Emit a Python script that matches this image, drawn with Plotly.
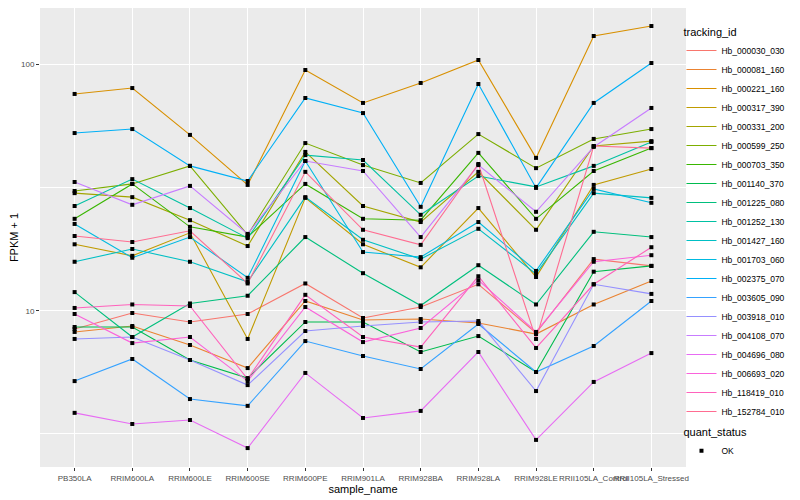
import plotly.graph_objects as go

samples = ["PB350LA", "RRIM600LA", "RRIM600LE", "RRIM600SE", "RRIM600PE", "RRIM901LA",
           "RRIM928BA", "RRIM928LA", "RRIM928LE", "RRII105LA_Control", "RRII105LA_Stressed"]

ids = ["Hb_000030_030", "Hb_000081_160", "Hb_000221_160", "Hb_000317_390", "Hb_000331_200",
       "Hb_000599_250", "Hb_000703_350", "Hb_001140_370", "Hb_001225_080", "Hb_001252_130",
       "Hb_001427_160", "Hb_001703_060", "Hb_002375_070", "Hb_003605_090", "Hb_003918_010",
       "Hb_004108_070", "Hb_004696_080", "Hb_006693_020", "Hb_118419_010", "Hb_152784_010"]

colors = ["#F8766D", "#EA8331", "#D89000", "#C09B00", "#A3A500", "#7CAE00", "#39B600", "#00BB4E",
          "#00BF7D", "#00C1A3", "#00BFC4", "#00BAE0", "#00B0F6", "#35A2FF", "#9590FF", "#C77CFF",
          "#E76BF3", "#FA62DB", "#FF62BC", "#FF6C91"]

# FPKM + 1 per tracking_id, in sample order
Hb_000030_030 = [8.43, 9.79, 9.00, 9.70, 12.9, 9.34, 10.35, 12.8, 8.12, 16.2, 15.2]
Hb_000081_160 = [8.20, 8.67, 7.26, 5.85, 10.95, 9.17, 9.25, 8.92, 8.04, 10.6, 13.2]
Hb_000221_160 = [75.8, 80.1, 51.7, 32.4, 94.8, 69.7, 84.0, 104.1, 41.7, 130.3, 143.0]
Hb_000317_390 = [18.6, 16.7, 20.7, 7.68, 28.7, 18.6, 15.0, 26.1, 13.7, 32.4, 37.6]
Hb_000331_200 = [30.0, 28.9, 23.3, 18.3, 44.1, 26.6, 22.9, 36.6, 21.3, 46.6, 48.8]
Hb_000599_250 = [30.6, 32.7, 38.7, 20.3, 47.9, 39.0, 33.0, 52.1, 37.9, 49.8, 54.6]
Hb_000703_350 = [23.6, 32.7, 21.9, 19.9, 32.7, 23.6, 23.3, 43.7, 23.6, 36.9, 45.7]
Hb_001140_370 = [8.59, 8.59, 6.31, 5.33, 9.00, 9.00, 6.80, 7.89, 5.64, 14.4, 15.2]
Hb_001225_080 = [11.9, 7.82, 10.7, 11.5, 19.9, 14.2, 10.5, 15.3, 10.6, 20.9, 19.9]
Hb_001252_130 = [26.6, 34.2, 26.1, 19.7, 42.8, 40.9, 24.5, 35.2, 31.8, 38.7, 48.4]
Hb_001427_160 = [15.8, 17.8, 15.8, 13.1, 28.9, 19.4, 16.2, 21.5, 14.1, 30.0, 28.7]
Hb_001703_060 = [22.5, 16.4, 19.9, 13.6, 40.5, 17.3, 16.5, 22.9, 14.5, 31.2, 27.4]
Hb_002375_070 = [52.6, 54.6, 38.7, 33.6, 73.0, 63.4, 26.4, 83.2, 31.5, 69.7, 101.2]
Hb_003605_090 = [5.18, 6.37, 4.38, 4.11, 7.53, 6.55, 5.80, 8.83, 5.64, 7.19, 10.95]
Hb_003918_010 = [7.68, 7.82, 6.31, 4.99, 8.27, 8.67, 9.00, 9.08, 4.72, 12.8, 11.7]
Hb_004108_070 = [33.3, 26.9, 32.1, 20.5, 40.5, 36.9, 19.9, 39.0, 25.2, 46.2, 66.5]
Hb_004696_080 = [3.85, 3.47, 3.60, 2.77, 5.59, 3.67, 3.92, 6.80, 2.99, 5.14, 6.73]
Hb_006693_020 = [9.70, 7.39, 7.82, 5.18, 10.35, 7.46, 8.51, 13.3, 8.20, 15.8, 16.8]
Hb_118419_010 = [10.26, 10.6, 10.45, 5.28, 11.6, 7.82, 7.12, 13.8, 7.06, 12.8, 18.1]
Hb_152784_010 = [20.1, 19.0, 21.1, 12.9, 36.6, 21.3, 18.5, 39.4, 7.68, 46.6, 45.7]

series = [Hb_000030_030, Hb_000081_160, Hb_000221_160, Hb_000317_390, Hb_000331_200,
          Hb_000599_250, Hb_000703_350, Hb_001140_370, Hb_001225_080, Hb_001252_130,
          Hb_001427_160, Hb_001703_060, Hb_002375_070, Hb_003605_090, Hb_003918_010,
          Hb_004108_070, Hb_004696_080, Hb_006693_020, Hb_118419_010, Hb_152784_010]

quant_status = ["OK"]

fig = go.Figure()
for name, col, vals in zip(ids, colors, series):
    fig.add_trace(go.Scatter(x=samples, y=vals, mode="lines", name=name,
                             line=dict(color=col, width=1.1), legend="legend"))

px_x, px_y = [], []
for vals in series:
    px_x += samples
    px_y += vals
fig.add_trace(go.Scatter(x=px_x, y=px_y, mode="markers", name=quant_status[0],
                         marker=dict(symbol="square", size=4, color="black"),
                         legend="legend2"))

font = "Liberation Sans, Arial, sans-serif"
# the page body adds an 8px margin, so the figure is 8px smaller than the window
fig.update_layout(
    width=792, height=492,
    margin=dict(l=32, r=114, t=0, b=33, autoexpand=False),
    paper_bgcolor="white", plot_bgcolor="#EBEBEB",
    font=dict(family=font, size=9, color="black"),
    legend=dict(title=dict(text="tracking_id", font=dict(size=11)),
                x=0.993, xanchor="left", y=0.970, yanchor="top",
                font=dict(size=8.5), bgcolor="rgba(0,0,0,0)", tracegroupgap=0,
                itemwidth=30),
    legend2=dict(title=dict(text="quant_status", font=dict(size=11)),
                 x=0.993, xanchor="left", y=0.098, yanchor="top",
                 font=dict(size=8.5), bgcolor="rgba(0,0,0,0)", itemwidth=30),
    xaxis=dict(type="category", categoryorder="array", categoryarray=samples,
               range=[-0.6, 10.6], showgrid=True, gridcolor="white", gridwidth=1.1,
               ticks="outside", ticklen=3, tickcolor="#333333", tickwidth=1, tickangle=0,
               tickfont=dict(size=8, color="#4D4D4D"), zeroline=False, automargin=False,
               title=dict(text="sample_name", font=dict(size=11), standoff=2)),
    yaxis=dict(type="log", range=[0.3657, 2.2285], tickvals=[10, 100], ticktext=["10", "100"],
               showgrid=True, gridcolor="white", gridwidth=1.1,
               ticks="outside", ticklen=3, tickcolor="#333333", tickwidth=1,
               tickfont=dict(size=8, color="#4D4D4D"), zeroline=False, automargin=False,
               minor=dict(tickvals=[3.1623, 31.623], showgrid=True, gridcolor="white",
                          gridwidth=0.5, ticklen=0),
               title=dict(text="FPKM + 1", font=dict(size=11), standoff=3)),
)

fig.write_html("out.html")
